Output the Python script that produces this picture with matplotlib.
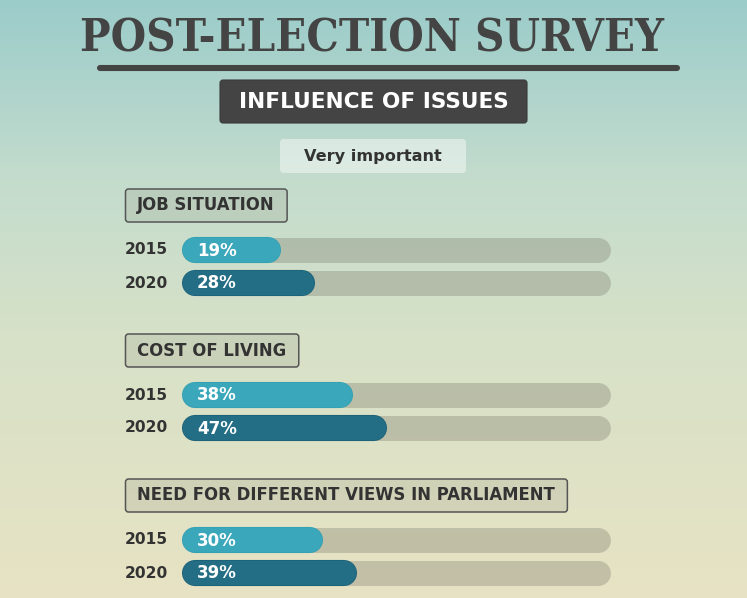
import numpy as np
import matplotlib
matplotlib.use("Agg")
import matplotlib.pyplot as plt
from matplotlib.patches import FancyBboxPatch
from matplotlib.colors import to_rgb

# ------------- dados -------------------
grupos = ["JOB SITUATION", "COST OF LIVING", "NEED FOR DIFFERENT VIEWS IN PARLIAMENT"]
anos = ["2015", "2020"]
valores_2015 = [19, 38, 30]
valores_2020 = [28, 47, 39]

titulo = "POST-ELECTION SURVEY"
subtitulo = "INFLUENCE OF ISSUES"
legenda = "Very important"

# ------------- estilo -------------------
W, H = 747, 598
cor_escura = "#444444"
cor_texto = "#333333"
cor_2015 = "#3ba7ba"
cor_2020 = "#246e85"
trilho_fim = 106   # onde o trilho cinza termina, em % da escala

fig = plt.figure(figsize=(W / 100, H / 100), dpi=100)

# fundo em gradiente
bg = fig.add_axes([0, 0, 1, 1])
paradas_y = [0, 180, 330, 598]
paradas_c = [to_rgb("#9bccca"), to_rgb("#c4dccd"), to_rgb("#d6e1c8"), to_rgb("#e8e3c4")]
yy = np.arange(H)
grad = np.zeros((H, 1, 3))
for k in range(3):
    grad[:, 0, k] = np.interp(yy, paradas_y, [c[k] for c in paradas_c])
bg.imshow(grad, aspect="auto", extent=[0, W, H, 0])
bg.set_xlim(0, W)
bg.set_ylim(H, 0)
bg.axis("off")

# camada das barras: 0..100 %
x0_px, escala = 195.5, 3.8
bx = fig.add_axes([x0_px / W, 0, 100 * escala / W, 1])
bx.set_xlim(0, 100)
bx.set_ylim(H, 0)
bx.axis("off")

# camada de texto em pixels (por cima das barras)
ax = fig.add_axes([0, 0, 1, 1])
ax.set_xlim(0, W)
ax.set_ylim(H, 0)
ax.axis("off")
ax.set_zorder(5)

# titulo
t = ax.text(371.5, 52, titulo, ha="center", va="baseline", fontsize=36,
            family="DejaVu Serif", weight="bold", stretch="condensed", color=cor_escura)
fig.canvas.draw()
r = fig.canvas.get_renderer()
larg = t.get_window_extent(r).width
if larg > 583:
    t.set_fontsize(36 * 583 / larg)

ax.plot([100, 677], [68, 68], color=cor_escura, lw=4.4, solid_capstyle="round")

# caixa escura
ax.add_patch(FancyBboxPatch((220, 80), 307, 43, boxstyle="round,pad=0,rounding_size=3",
                            fc=cor_escura, ec="#3a3a3a", lw=0.8))
ax.text(373.5, 102, subtitulo, ha="center", va="center", fontsize=15.6,
        weight="bold", color="white")

# caixa "Very important"
ax.add_patch(FancyBboxPatch((280, 139), 186, 34, boxstyle="round,pad=0,rounding_size=4",
                            fc="white", alpha=0.45, ec="none"))
ax.text(373, 157, legenda, ha="center", va="center", fontsize=11.6, weight="bold",
        color=cor_texto)

# grupos
y_grupo = [205.5, 350.5, 495.5]
for g, nome in enumerate(grupos):
    yg = y_grupo[g]
    tt = ax.text(137, yg, nome, ha="left", va="center", fontsize=11.9, weight="bold",
                 color=cor_texto, zorder=3)
    fig.canvas.draw()
    bb = tt.get_window_extent(r).transformed(ax.transData.inverted())
    xa, xb = min(bb.x0, bb.x1), max(bb.x0, bb.x1)
    ax.add_patch(FancyBboxPatch((xa - 11.5, yg - 16.5), (xb - xa) + 24, 33,
                                boxstyle="round,pad=0,rounding_size=3",
                                fc="#8a8a7a", alpha=0.18, ec="none", zorder=2))
    ax.add_patch(FancyBboxPatch((xa - 11.5, yg - 16.5), (xb - xa) + 24, 33,
                                boxstyle="round,pad=0,rounding_size=3",
                                fc="none", ec="#555555", lw=1.1, zorder=2))

    linhas = [(anos[0], valores_2015[g], cor_2015, "#33a0b3", yg + 44.5),
              (anos[1], valores_2020[g], cor_2020, "#1b6179", yg + 77.5)]
    for ano, v, cor, borda, yl in linhas:
        ax.text(125, yl, ano, ha="left", va="center", fontsize=11.2, weight="bold",
                color=cor_texto)
        bx.plot([0, trilho_fim], [yl, yl], color="#7f7f6f", alpha=0.35, lw=18,
                solid_capstyle="round", clip_on=False)
        bx.plot([0, v], [yl, yl], color=borda, lw=18.8, solid_capstyle="round",
                clip_on=False)
        bx.plot([0, v], [yl, yl], color=cor, lw=17.6, solid_capstyle="round",
                clip_on=False)
        ax.text(197, yl + 0.5, f"{v}%", ha="left", va="center", fontsize=12,
                weight="bold", color="white")

fig.savefig("out.png", dpi=100)
